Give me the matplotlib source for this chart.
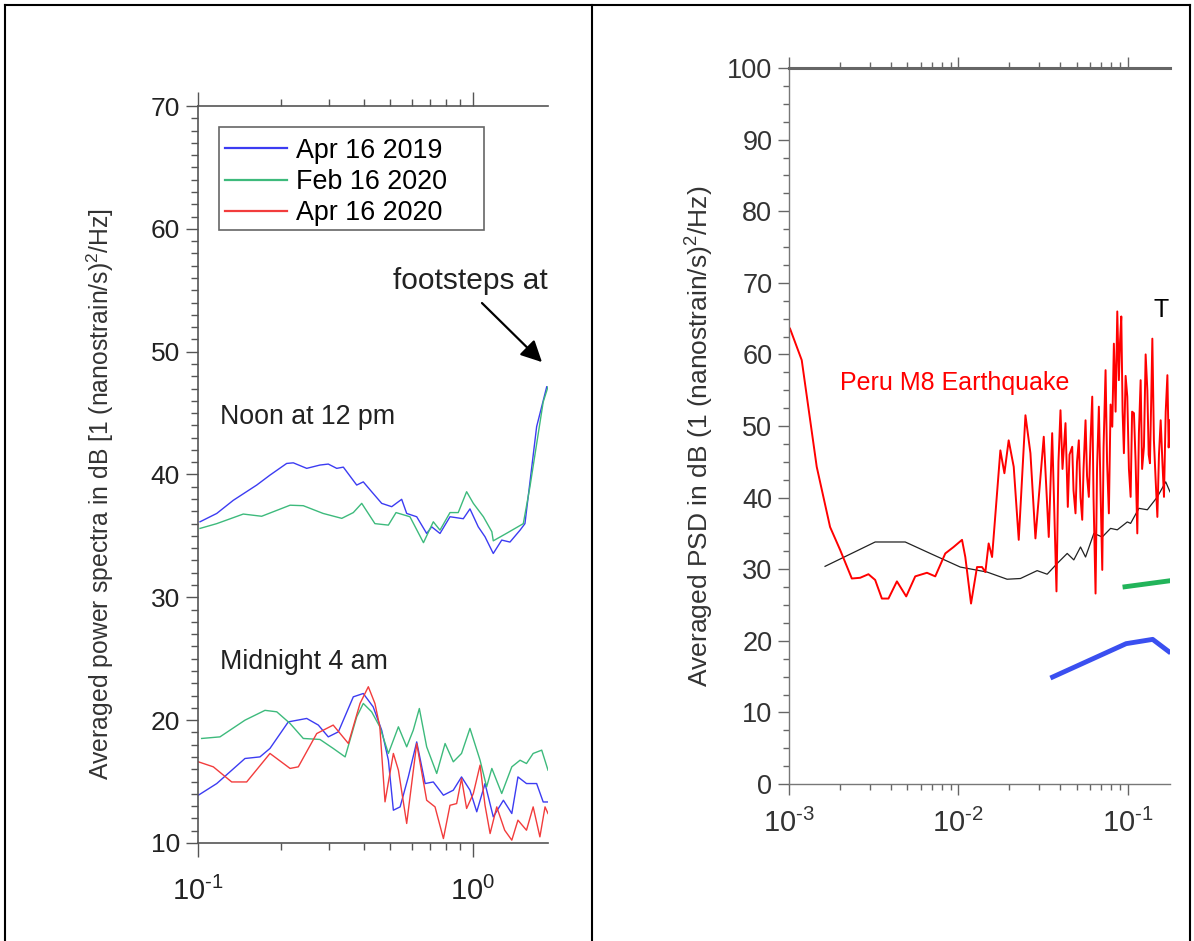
import matplotlib
matplotlib.use("Agg")
import numpy as np
import matplotlib.pyplot as plt
from matplotlib.lines import Line2D
from matplotlib.patches import Rectangle
from matplotlib.ticker import MultipleLocator, LogLocator, NullFormatter, FuncFormatter

plt.rcParams['font.family'] = ['Liberation Sans', 'DejaVu Sans']
plt.rcParams['mathtext.fontset'] = 'custom'
plt.rcParams['mathtext.rm'] = 'Liberation Sans'
plt.rcParams['mathtext.it'] = 'Liberation Sans'
plt.rcParams['mathtext.default'] = 'regular'

# ---------------- Left panel data ----------------
noon_blue_f = [0.1017, 0.117, 0.1344, 0.1635, 0.1827, 0.2101, 0.2221, 0.2485, 0.2777, 0.2977,
               0.3195, 0.3377, 0.3777, 0.3991, 0.428, 0.4656, 0.5063, 0.5504, 0.574, 0.6242,
               0.6785, 0.7077, 0.7586, 0.8249, 0.922, 0.975, 1.045, 1.106, 1.185, 1.272,
               1.363, 1.483, 1.545, 1.704, 1.854]
noon_blue_db = [36.15, 36.83, 37.9, 39.14, 39.95, 40.9, 40.95, 40.5, 40.77, 40.85,
                40.5, 40.6, 39.14, 39.4, 38.6, 37.65, 37.38, 37.98, 36.83, 36.56,
                35.2, 35.74, 35.2, 36.56, 36.4, 37.2, 35.74, 34.93, 33.57, 34.66,
                34.5, 35.47, 36.0, 43.9, 47.14]

noon_green_f = [0.1017, 0.117, 0.1461, 0.1704, 0.2162, 0.2415, 0.2851, 0.3333, 0.3671, 0.3939,
                0.4399, 0.4924, 0.525, 0.5899, 0.6605, 0.7173, 0.7586, 0.8249, 0.8838, 0.948,
                1.003, 1.091, 1.171, 1.185, 1.322, 1.524, 1.611, 1.8, 1.874]
noon_green_db = [35.61, 36.0, 36.78, 36.6, 37.5, 37.46, 36.83, 36.43, 36.9, 37.65,
                 36.0, 35.88, 36.9, 36.56, 34.45, 36.15, 35.47, 36.9, 36.9, 38.6,
                 37.65, 36.56, 35.34, 34.6, 35.2, 36.0, 39.0, 45.9, 47.14]

mid_blue_f = [0.1003, 0.117, 0.1482, 0.168, 0.1827, 0.213, 0.2485, 0.2739, 0.2977, 0.3239,
              0.3671, 0.3991, 0.4336, 0.4656, 0.4924, 0.5134, 0.5432, 0.5818, 0.6242, 0.6699,
              0.7173, 0.7806, 0.848, 0.9085, 0.975, 1.032, 1.106, 1.185, 1.29, 1.384,
              1.457, 1.565, 1.704, 1.8, 1.874]
mid_blue_db = [13.89, 14.84, 16.88, 17.01, 17.7, 19.86, 20.14, 19.6, 18.64, 19.05,
               21.9, 22.17, 21.08, 19.18, 16.74, 12.67, 12.94, 15.38, 18.23, 14.84,
               14.97, 13.89, 14.3, 15.38, 14.3, 12.54, 14.84, 12.13, 13.48, 12.4,
               15.38, 14.84, 14.84, 13.34, 13.34]

mid_green_f = [0.1031, 0.1202, 0.1482, 0.1752, 0.1934, 0.2162, 0.2415, 0.2777, 0.3102, 0.3428,
               0.3777, 0.3991, 0.428, 0.4584, 0.4924, 0.5355, 0.574, 0.6064, 0.6381, 0.6785,
               0.738, 0.7917, 0.848, 0.9085, 0.975, 1.061, 1.121, 1.171, 1.272, 1.384,
               1.483, 1.565, 1.655, 1.778, 1.874]
mid_green_db = [18.51, 18.64, 20.0, 20.8, 20.68, 19.73, 18.51, 18.43, 17.7, 17.01,
                20.27, 21.36, 20.68, 19.46, 17.29, 19.46, 17.83, 19.18, 20.95, 17.83,
                15.66, 18.1, 16.61, 17.29, 19.33, 16.74, 14.57, 16.07, 14.03, 16.2,
                16.74, 16.47, 17.29, 17.56, 15.93]

mid_red_f = [0.1003, 0.1137, 0.1326, 0.1503, 0.1827, 0.2162, 0.2316, 0.2702, 0.3102, 0.3523,
             0.3883, 0.4163, 0.4399, 0.4584, 0.4787, 0.5134, 0.5355, 0.574, 0.6242, 0.6785,
             0.7277, 0.7806, 0.8249, 0.872, 0.9085, 0.948, 1.003, 1.061, 1.106, 1.154,
             1.22, 1.304, 1.384, 1.457, 1.565, 1.655, 1.751, 1.828, 1.874]
mid_red_db = [16.61, 16.2, 14.97, 14.97, 17.29, 16.07, 16.2, 18.91, 19.6, 18.1,
              21.36, 22.72, 21.36, 19.46, 13.35, 17.29, 15.93, 11.59, 18.1, 13.48,
              12.94, 10.36, 13.07, 13.21, 15.25, 12.81, 14.03, 16.34, 13.07, 10.77,
              12.94, 11.04, 10.23, 11.86, 11.04, 12.94, 10.5, 12.94, 12.4]

legend_labels = ["Apr 16 2019", "Feb 16 2020", "Apr 16 2020"]

# ---------------- Right panel data ----------------
peru_f = [1.014e-3, 1.189e-3, 1.458e-3, 1.748e-3, 2.004e-3, 2.35e-3, 2.631e-3, 2.946e-3, 3.228e-3,
          3.536e-3, 3.868e-3, 4.339e-3, 4.924e-3, 5.567e-3, 6.528e-3, 7.31e-3, 8.377e-3,
          9.38e-3, 1.052e-2, 1.1e-2, 1.189e-2, 1.29e-2, 1.381e-2, 1.445e-2, 1.511e-2, 1.583e-2,
          1.772e-2, 1.872e-2, 1.984e-2, 2.125e-2, 2.275e-2, 2.492e-2, 2.667e-2, 2.855e-2,
          3.197e-2, 3.422e-2, 3.585e-2, 3.801e-2,
          0.03905, 0.04014, 0.04125, 0.04297, 0.04434, 0.04538, 0.04708, 0.04792, 0.04924,
          0.05026, 0.0515, 0.05271, 0.05395, 0.05491, 0.05643, 0.0576, 0.05902, 0.0604,
          0.06182, 0.06291, 0.06467, 0.06598, 0.06764, 0.06921, 0.07085, 0.07211, 0.0741,
          0.07563, 0.07751, 0.07933, 0.08119, 0.08297, 0.08492, 0.0869, 0.08881, 0.0903,
          0.09177, 0.09342, 0.09508, 0.09732, 0.09959, 0.1018, 0.1042, 0.1063, 0.109,
          0.1115, 0.1141, 0.1166, 0.1194, 0.1218, 0.1249, 0.1278, 0.1308, 0.1332, 0.1355,
          0.1377, 0.14, 0.143, 0.1464, 0.1499, 0.1532, 0.1568, 0.1605, 0.164, 0.1679,
          0.1718, 0.1748, 0.178]
peru_db = [63.6, 59.2, 44.3, 35.9, 32.7, 28.7, 28.8, 29.3, 28.5,
           25.9, 25.9, 28.3, 26.2, 29.0, 29.5, 29.0, 32.2,
           33.1, 34.1, 31.7, 25.2, 30.3, 30.3, 29.6, 33.6, 31.7,
           46.6, 43.4, 48.0, 44.3, 34.1, 51.5, 46.2, 34.3,
           48.5, 34.5, 49.0, 26.9,
           45, 52.2, 44, 50.4, 38.7, 46, 47.1, 41, 37.8,
           45, 48.0, 40, 36.9, 44, 50.8, 43, 40.1, 48,
           54.1, 40, 26.6, 44, 52.7, 41, 29.9, 47, 57.8,
           45, 37.8, 53, 49.9, 61.5, 52, 66.0, 56.4, 62,
           65.3, 52, 46.2, 57, 54.1, 44, 40.1, 52, 51.8,
           45, 35.0, 49, 56.4, 44, 47.1, 60, 55.0, 46, 44.8,
           53, 62.2, 48, 42.5, 37.3, 46, 50.8, 45, 40.1, 52,
           57.1, 47, 50.8]

model_f = [1.633e-3, 3.228e-3, 4.858e-3, 6.828e-3, 1.027e-2, 1.479e-2, 1.942e-2, 2.328e-2,
           2.922e-2, 3.349e-2, 3.837e-2, 4.398e-2, 4.811e-2, 5.271e-2, 5.643e-2, 6.318e-2,
           7.085e-2, 7.933e-2, 8.69e-2, 9.959e-2, 0.1042, 0.1166, 0.1308, 0.1499, 0.1679, 0.178]
model_db = [30.4, 33.8, 33.8, 32.2, 30.3, 29.6, 28.6, 28.7,
            29.8, 29.3, 30.8, 32.2, 31.3, 33.1, 31.7, 35.0,
            34.5, 35.7, 35.5, 36.6, 36.4, 38.5, 38.3, 40.1, 42.2, 40.8]

green_f = [0.0934, 0.1795]
green_db = [27.5, 28.4]

blue_f = [0.035, 0.098, 0.1406, 0.1795]
blue_db = [14.8, 19.6, 20.2, 18.3]

# ---------------- Figure ----------------
W, H = 1194, 941
fig = plt.figure(figsize=(W / 100, H / 100), dpi=100)

def ax_rect(l, r, t, b):
    return [l / W, 1 - b / H, (r - l) / W, (b - t) / H]

def log_label(v, pos):
    e = int(round(np.log10(v)))
    return r"$10^{\text{%d}}$" % e

spine_col = '#555555'
txt_col = '#222222'

# Left axes
ax1 = fig.add_axes(ax_rect(198, 548, 106, 843))
ax1.set_xscale('log')
ax1.set_xlim(0.1, 1.874)
ax1.set_ylim(10, 70)
c_blue, c_green, c_red = '#3c3cf2', '#3dba7c', '#f23c3c'
ax1.plot(noon_blue_f, noon_blue_db, color=c_blue, lw=1.0, label=legend_labels[0])
ax1.plot(noon_green_f, noon_green_db, color=c_green, lw=1.0, label=legend_labels[1])
ax1.plot([], [], color=c_red, lw=1.0, label=legend_labels[2])
ax1.plot(mid_blue_f, mid_blue_db, color=c_blue, lw=1.0)
ax1.plot(mid_green_f, mid_green_db, color=c_green, lw=1.0)
ax1.plot(mid_red_f, mid_red_db, color=c_red, lw=1.0)

ax1.yaxis.set_major_locator(MultipleLocator(10))
ax1.yaxis.set_minor_locator(MultipleLocator(1))
ax1.xaxis.set_major_locator(LogLocator(base=10, numticks=10))
ax1.xaxis.set_major_formatter(FuncFormatter(log_label))
ax1.xaxis.set_minor_locator(LogLocator(base=10, subs=range(2, 10), numticks=20))
ax1.xaxis.set_minor_formatter(NullFormatter())
ax1.spines['right'].set_visible(False)
for s in ['left', 'bottom', 'top']:
    ax1.spines[s].set_color(spine_col)
    ax1.spines[s].set_linewidth(1.2)
ax1.tick_params(axis='both', which='both', direction='out', color=spine_col, width=1.0)
ax1.tick_params(axis='x', which='both', top=True)
ax1.tick_params(axis='y', which='major', length=9, labelsize=19, pad=4)
ax1.tick_params(axis='y', which='minor', length=5)
ax1.tick_params(axis='x', which='major', length=10, labelsize=21, pad=14)
ax1.tick_params(axis='x', which='minor', length=5)
ax1.tick_params(which='both', labelcolor=txt_col)

leg = ax1.legend(loc='upper left', bbox_to_anchor=(0.062, 0.9645), fontsize=19.4,
                 frameon=False, handlelength=2.3, handletextpad=0.35,
                 labelspacing=0.2, borderpad=0.2, borderaxespad=0.0)
for h in leg.legend_handles:
    h.set_linewidth(1.6)
ax1.add_patch(Rectangle((21 / 350, (843 - 230) / 737), 265 / 350, 103 / 737,
                        transform=ax1.transAxes, fill=False, edgecolor='#666666', lw=1.2,
                        zorder=5))

ax1.text(0.1202, 44.67, "Noon at 12 pm", fontsize=19.3, color=txt_col, va='center', ha='left')
ax1.text(0.1202, 24.72, "Midnight 4 am", fontsize=19.3, color=txt_col, va='center', ha='left')
ax1.text(0.5117, 55.75, "footsteps at", fontsize=21.5, color=txt_col, va='center', ha='left',
         clip_on=True)
ax1.annotate("", xy=(1.782, 49.15), xytext=(1.078, 53.96),
             arrowprops=dict(arrowstyle='-|>', color='black', lw=1.6, mutation_scale=32,
                             shrinkA=0, shrinkB=0))

fig.text(100 / W, 1 - 494 / H, "Averaged power spectra in dB [1 (nanostrain/s)$^2$/Hz]",
         rotation=90, ha='center', va='center', fontsize=17.8, color='#333333')

# Right axes
ax2 = fig.add_axes(ax_rect(789, 1170, 68, 784))
ax2.set_xscale('log')
ax2.set_xlim(1e-3, 0.178)
ax2.set_ylim(0, 100)
ax2.plot(model_f, model_db, color='#222222', lw=0.9)
ax2.plot(peru_f, peru_db, color='#ff0000', lw=1.4)
ax2.plot(green_f, green_db, color='#22b45a', lw=3.5, solid_capstyle='butt')
ax2.plot(blue_f, blue_db, color='#3a4ff0', lw=3.5, solid_capstyle='butt')

ax2.yaxis.set_major_locator(MultipleLocator(10))
ax2.yaxis.set_minor_locator(MultipleLocator(2.5))
ax2.xaxis.set_major_locator(LogLocator(base=10, numticks=10))
ax2.xaxis.set_major_formatter(FuncFormatter(log_label))
ax2.xaxis.set_minor_locator(LogLocator(base=10, subs=range(2, 10), numticks=20))
ax2.xaxis.set_minor_formatter(NullFormatter())
ax2.spines['right'].set_visible(False)
for s in ['left', 'bottom']:
    ax2.spines[s].set_color('#777777')
    ax2.spines[s].set_linewidth(1.0)
ax2.spines['top'].set_color('#666666')
ax2.spines['top'].set_linewidth(2.2)
ax2.tick_params(axis='both', which='both', direction='out', color='#666666', width=1.0)
ax2.tick_params(axis='x', which='both', top=True)
ax2.tick_params(axis='y', which='major', length=8, labelsize=19.5, labelcolor='#333333', pad=4)
ax2.tick_params(axis='y', which='minor', length=4)
ax2.tick_params(axis='x', which='major', length=8, labelsize=21, labelcolor='#333333', pad=10)
ax2.tick_params(axis='x', which='minor', length=4)

ax2.text(2.004e-3, 56.0, "Peru M8 Earthquake", fontsize=18, color='#ff0000', va='center', ha='left')
ax2.text(0.1426, 66.2, "T", fontsize=18, color='black', va='center', ha='left', clip_on=True)

fig.text(700 / W, 1 - 436 / H, "Averaged PSD in dB (1 (nanostrain/s)$^2$/Hz)",
         rotation=90, ha='center', va='center', fontsize=19, color='#333333')

# Table cell borders
for (x0, y0, x1, y1) in [(5, 5, 1190, 5), (5, 5, 5, 941), (592, 5, 592, 941), (1190, 5, 1190, 941)]:
    fig.add_artist(Line2D([x0 / W, x1 / W], [1 - y0 / H, 1 - y1 / H], transform=fig.transFigure,
                          color='black', lw=1.5))

fig.savefig("out.png", dpi=100)
